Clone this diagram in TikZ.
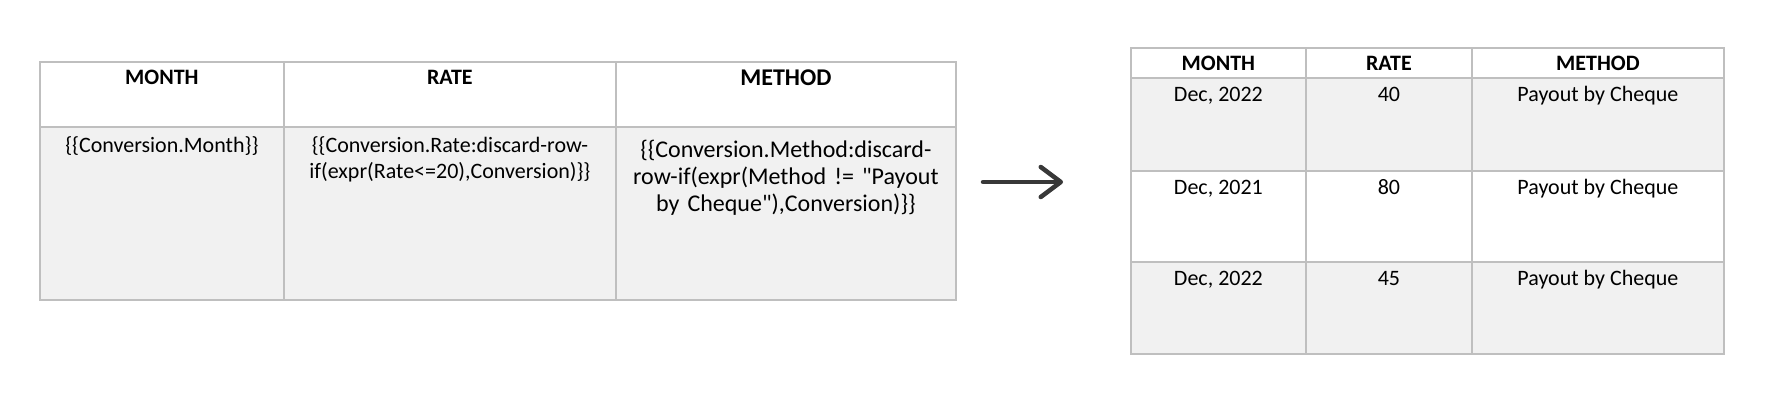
\documentclass[tikz,border=0pt]{standalone}
\usepackage{fontspec}
\setmainfont{Carlito}
\usepackage{xcolor}
\usepackage{tikz}
\usetikzlibrary{positioning, calc, arrows.meta}

\definecolor{gridline}{HTML}{BFBFBF}
\definecolor{shade}{HTML}{F1F1F1}
\definecolor{arrowgray}{HTML}{383838}

\begin{document}
\frenchspacing
\begin{tikzpicture}[x=1pt, y=-1pt,
		cell/.style={draw=gridline, line width=1.8pt, rectangle, inner sep=0pt, anchor=north west},
		hd/.style={anchor=base, inner sep=0pt, font=\bfseries\fontsize{22}{27}\selectfont},
		hdbig/.style={anchor=base, inner sep=0pt, font=\bfseries\fontsize{24}{28}\selectfont},
		txt/.style={anchor=base, inner sep=0pt, font=\fontsize{22}{26.7}\selectfont},
		txtbig/.style={anchor=base, inner sep=0pt, align=center, font=\fontsize{24}{27}\selectfont},
		flow/.style={draw=arrowgray, line width=4.5pt, line cap=round, -{Straight Barb[length=20pt, width=30pt, round]}}]
			\useasboundingbox (0,0) rectangle (1766,418);
			
			% template table
			\node[cell, minimum width=244, minimum height=65] (lmonth) at (39,61) {};
			\node[cell, minimum width=332, minimum height=65] (lrate) at (283,61) {};
			\node[cell, minimum width=340, minimum height=65] (lmethod) at (615,61) {};
			\node[cell, fill=shade, minimum width=244, minimum height=173] (lmonthval) at (39,126) {};
			\node[cell, fill=shade, minimum width=332, minimum height=173] (lrateval) at (283,126) {};
			\node[cell, fill=shade, minimum width=340, minimum height=173] (lmethodval) at (615,126) {};
			
			\node[hd] (lmontht) at ($(lmonth.north)+(0,23)$) {MONTH};
			\node[hd] (lratet) at ($(lrate.north)+(0,23)$) {RATE};
			\node[hdbig] (lmethodt) at ($(lmethod.north)+(0,24)$) {METHOD};
			\node[txt] (lmonthvalt) at ($(lmonthval.north)+(0,26)$) {\{\{Conversion.Month\}\}};
			\node[txt, align=center, text width=320] (lratevalt) at ($(lrateval.north)+(0,26)$) {\{\{Conversion.Rate:discard-row-\\if(expr(Rate<=20),Conversion)\}\}};
			\node[txtbig, text width=330] (lmethodvalt) at ($(lmethodval.north)+(0,31)$) {\{\{Conversion.Method:discard-\\row-if(expr(Method != \textquotedbl Payout\\by Cheque\textquotedbl),Conversion)\}\}};
			
			% arrow
			\coordinate (arrfrom) at (983,182);
			\coordinate (arrto) at (1063,182);
			\draw[flow] (arrfrom) -- (arrto);
			
			% result table
			\node[cell, minimum width=175, minimum height=30] (rmonth) at (1130,47) {};
			\node[cell, minimum width=166, minimum height=30] (rrate) at (1305,47) {};
			\node[cell, minimum width=252, minimum height=30] (rmethod) at (1471,47) {};
			\node[cell, fill=shade, minimum width=175, minimum height=93] (rmontha) at (1130,77) {};
			\node[cell, fill=shade, minimum width=166, minimum height=93] (rratea) at (1305,77) {};
			\node[cell, fill=shade, minimum width=252, minimum height=93] (rmethoda) at (1471,77) {};
			\node[cell, minimum width=175, minimum height=91] (rmonthb) at (1130,170) {};
			\node[cell, minimum width=166, minimum height=91] (rrateb) at (1305,170) {};
			\node[cell, minimum width=252, minimum height=91] (rmethodb) at (1471,170) {};
			\node[cell, fill=shade, minimum width=175, minimum height=92] (rmonthc) at (1130,261) {};
			\node[cell, fill=shade, minimum width=166, minimum height=92] (rratec) at (1305,261) {};
			\node[cell, fill=shade, minimum width=252, minimum height=92] (rmethodc) at (1471,261) {};
			
			\node[hd] (rmontht) at ($(rmonth.north)+(0,23)$) {MONTH};
			\node[hd] (rratet) at ($(rrate.north)+(0,23)$) {RATE};
			\node[hd] (rmethodt) at ($(rmethod.north)+(0,23)$) {METHOD};
			\node[txt] (rmonthat) at ($(rmontha.north)+(0,24)$) {Dec, 2022};
			\node[txt] (rrateat) at ($(rratea.north)+(0,24)$) {40};
			\node[txt] (rmethodat) at ($(rmethoda.north)+(0,24)$) {Payout by Cheque};
			\node[txt] (rmonthbt) at ($(rmonthb.north)+(0,24)$) {Dec, 2021};
			\node[txt] (rratebt) at ($(rrateb.north)+(0,24)$) {80};
			\node[txt] (rmethodbt) at ($(rmethodb.north)+(0,24)$) {Payout by Cheque};
			\node[txt] (rmonthct) at ($(rmonthc.north)+(0,24)$) {Dec, 2022};
			\node[txt] (rratect) at ($(rratec.north)+(0,24)$) {45};
			\node[txt] (rmethodct) at ($(rmethodc.north)+(0,24)$) {Payout by Cheque};
		\end{tikzpicture}
\end{document}
